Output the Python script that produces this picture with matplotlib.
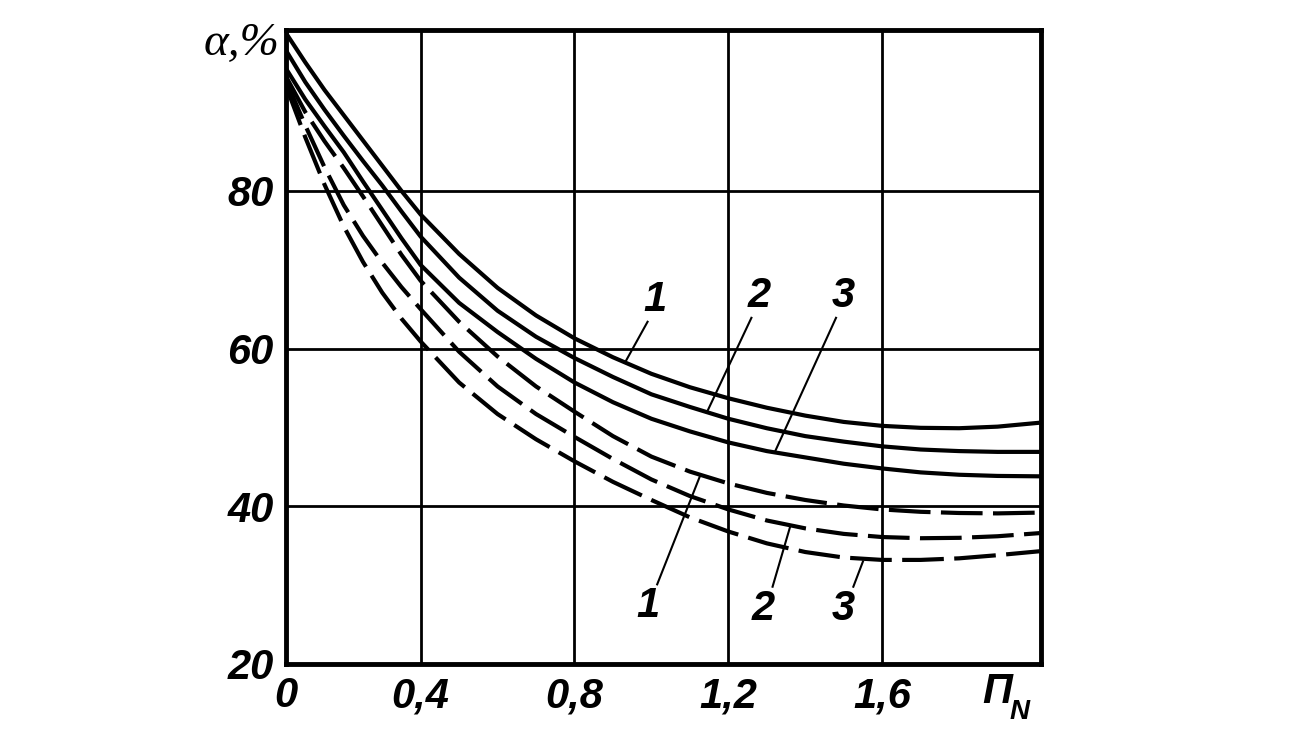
import matplotlib
matplotlib.use("Agg")
import matplotlib.pyplot as plt

# data: relative value alpha (%) against П_N
pn = [0.05, 0.1, 0.15, 0.2, 0.25, 0.3, 0.35, 0.4, 0.5, 0.6, 0.7, 0.8, 0.9, 1.0,
      1.1, 1.2, 1.3, 1.4, 1.5, 1.6, 1.7, 1.8, 1.9, 2.01]

solid_1 = [100.0, 96.3, 92.8, 89.6, 86.4, 83.2, 80.0, 77.0, 72.0, 67.7, 64.2, 61.3,
           58.9, 56.8, 55.1, 53.7, 52.5, 51.5, 50.7, 50.2, 49.95, 49.9, 50.1, 50.6]
solid_2 = [97.8, 93.8, 90.3, 87.0, 83.8, 80.7, 77.4, 74.2, 69.0, 64.8, 61.5, 58.8,
           56.4, 54.2, 52.6, 51.1, 49.9, 48.9, 48.2, 47.6, 47.2, 47.0, 46.9, 46.9]
solid_3 = [95.5, 91.6, 88.2, 84.9, 81.2, 77.6, 74.0, 70.6, 65.8, 62.1, 58.7, 55.7,
           53.2, 51.1, 49.5, 48.1, 47.0, 46.2, 45.4, 44.8, 44.3, 44.0, 43.85, 43.8]
dashed_1 = [94.5, 90.0, 86.3, 82.9, 79.3, 75.6, 71.9, 68.6, 63.4, 59.0, 55.2, 52.0,
            48.9, 46.3, 44.4, 42.9, 41.7, 40.8, 40.1, 39.6, 39.3, 39.15, 39.1, 39.2]
dashed_2 = [94.0, 88.3, 83.0, 78.2, 74.3, 70.9, 67.8, 65.0, 59.6, 55.2, 51.7, 48.8,
            46.0, 43.4, 41.3, 39.6, 38.2, 37.2, 36.5, 36.1, 35.95, 36.0, 36.2, 36.6]
dashed_3 = [93.3, 86.8, 80.8, 75.5, 71.0, 67.1, 63.8, 60.9, 55.7, 51.7, 48.5, 45.7,
            43.1, 40.8, 38.6, 36.8, 35.3, 34.2, 33.5, 33.2, 33.2, 33.4, 33.8, 34.3]

x_ticks = [0.05, 0.4, 0.8, 1.2, 1.6]
x_labels = ["0", "0,4", "0,8", "1,2", "1,6"]
y_ticks = [20, 40, 60, 80]

# curve labels: (text, label position, point on curve)
top_labels = [("1", (1.01, 66.2), (0.931, 58.2)),
              ("2", (1.28, 66.7), (1.144, 51.9)),
              ("3", (1.50, 66.7), (1.321, 46.9))]
bottom_labels = [("1", (0.99, 27.3), (1.126, 43.8)),
                 ("2", (1.29, 27.0), (1.36, 37.3)),
                 ("3", (1.50, 27.0), (1.55, 33.0))]

fig = plt.figure(figsize=(12.99, 7.32), dpi=100)
ax = fig.add_axes([0.2202, 0.0929, 0.5812, 0.8661])

ax.set_xlim(0.05, 2.013)
ax.set_ylim(20, 100.4)

# grid
for gx in [0.4, 0.8, 1.2, 1.6]:
    ax.axvline(gx, color="black", lw=2.0, zorder=1)
for gy in [40, 60, 80]:
    ax.axhline(gy, color="black", lw=2.0, zorder=1)

lw = 3.0
for ys in [solid_1, solid_2, solid_3]:
    ax.plot(pn, ys, color="black", lw=lw, zorder=3, solid_capstyle="butt")
for ys in [dashed_1, dashed_2, dashed_3]:
    ax.plot(pn, ys, color="black", lw=lw, zorder=3, dashes=(10, 2.5),
            dash_capstyle="butt")

for s in ax.spines.values():
    s.set_linewidth(3.5)

lab_font = dict(family=["Liberation Sans", "DejaVu Sans"], weight="bold",
                style="italic", size=30)

ax.set_xticks(x_ticks)
ax.set_xticklabels(x_labels, **lab_font)
ax.set_yticks(y_ticks)
ax.set_yticklabels([str(v) for v in y_ticks], **lab_font)
ax.tick_params(length=0, pad=9)

# curve number labels with leader lines
for txt, (lx, ly), (cx, cy) in top_labels + bottom_labels:
    ax.text(lx, ly, txt, ha="center", va="center", **lab_font)
    if ly > cy:
        sx, sy = lx - 0.02, ly - 2.8
    else:
        sx, sy = lx + 0.025, ly + 2.8
    ax.plot([sx, cx], [sy, cy], color="black", lw=1.5, zorder=4)

# axis titles
ax.text(0.033, 97.2, "α,%", ha="right", va="baseline", clip_on=False,
        family=["Liberation Serif", "DejaVu Serif"], style="italic", size=34)
ax.text(1.90, 15.0, "П", ha="center", va="baseline", clip_on=False, **lab_font)
ax.text(1.957, 13.0, "N", ha="center", va="baseline", clip_on=False,
        family=["Liberation Sans", "DejaVu Sans"], weight="bold",
        style="italic", size=20)

fig.savefig("out.png", dpi=100, facecolor="white")
